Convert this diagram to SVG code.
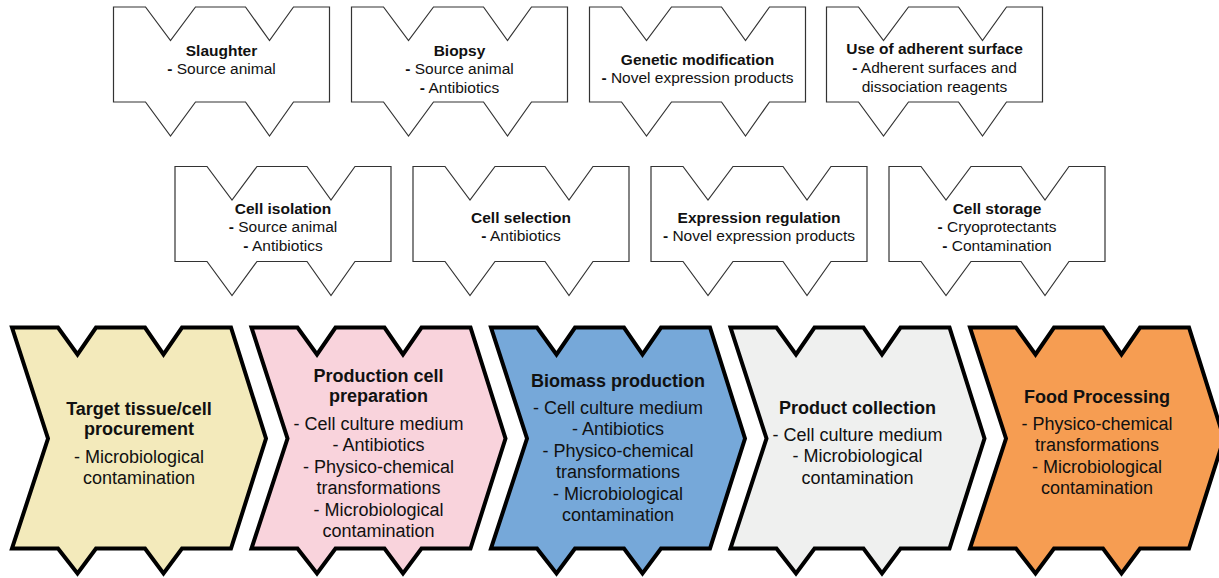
<svg xmlns="http://www.w3.org/2000/svg" xmlns:xlink="http://www.w3.org/1999/xlink" width="1219" height="578" viewBox="0 0 1219 578">
<style>
.tag{fill:#fff;stroke:#333;stroke-width:1.2;stroke-linejoin:miter}
.chev{stroke:#000;stroke-width:4;stroke-linejoin:miter}
.st{font-family:"Liberation Sans",Arial,sans-serif;font-size:15.5px;fill:#111;text-anchor:middle}
.ct{font-family:"Liberation Sans",Arial,sans-serif;font-size:18px;fill:#111;text-anchor:middle}
.b{font-weight:bold}
</style>
<defs>
<path id="tagShape" d="M0,0 H32 L57,33.5 L82,0 H132 L156,33.5 L180,0 H216 V95 H180 L156,129 L132,95 H82 L57,129 L32,95 H0 Z"/>
<path id="chevShape" d="M0,0 H46 L65.5,27 L84,0 H133 L151.5,27 L170,0 H219 L254,111 L219,221 H170 L151.5,246 L133,221 H84 L65.5,246 L46,221 H0 L36,111 Z"/>
</defs>
<g id="connectors"/>
<g id="slaughter">
<use href="#tagShape" class="tag" x="113.5" y="7"/>
<text class="st" x="221.5"><tspan class="b" x="221.5" y="55.5">Slaughter</tspan><tspan x="221.5" y="74"><tspan class="b">-</tspan> Source animal</tspan></text>
</g>
<g id="biopsy">
<use href="#tagShape" class="tag" x="351.5" y="7"/>
<text class="st"><tspan class="b" x="459.5" y="55.5">Biopsy</tspan><tspan x="459.5" y="74"><tspan class="b">-</tspan> Source animal</tspan><tspan x="459.5" y="92.5"><tspan class="b">-</tspan> Antibiotics</tspan></text>
</g>
<g id="genetic-modification">
<use href="#tagShape" class="tag" x="589.5" y="7"/>
<text class="st"><tspan class="b" x="697.5" y="64.5">Genetic modification</tspan><tspan x="697.5" y="83"><tspan class="b">-</tspan> Novel expression products</tspan></text>
</g>
<g id="adherent-surface">
<use href="#tagShape" class="tag" x="826.5" y="7"/>
<text class="st"><tspan class="b" x="934.5" y="53.5">Use of adherent surface</tspan><tspan x="934.5" y="72.5"><tspan class="b">-</tspan> Adherent surfaces and</tspan><tspan x="934.5" y="91.5">dissociation reagents</tspan></text>
</g>
<g id="cell-isolation">
<use href="#tagShape" class="tag" x="175" y="166.5"/>
<text class="st"><tspan class="b" x="283" y="213.5">Cell isolation</tspan><tspan x="283" y="232"><tspan class="b">-</tspan> Source animal</tspan><tspan x="283" y="250.5"><tspan class="b">-</tspan> Antibiotics</tspan></text>
</g>
<g id="cell-selection">
<use href="#tagShape" class="tag" x="413" y="166.5"/>
<text class="st"><tspan class="b" x="521" y="222.5">Cell selection</tspan><tspan x="521" y="241"><tspan class="b">-</tspan> Antibiotics</tspan></text>
</g>
<g id="expression-regulation">
<use href="#tagShape" class="tag" x="651" y="166.5"/>
<text class="st"><tspan class="b" x="759" y="222.5">Expression regulation</tspan><tspan x="759" y="241"><tspan class="b">-</tspan> Novel expression products</tspan></text>
</g>
<g id="cell-storage">
<use href="#tagShape" class="tag" x="889" y="166.5"/>
<text class="st"><tspan class="b" x="997" y="213.5">Cell storage</tspan><tspan x="997" y="232"><tspan class="b">-</tspan> Cryoprotectants</tspan><tspan x="997" y="250.5"><tspan class="b">-</tspan> Contamination</tspan></text>
</g>
<g id="target-tissue">
<use href="#chevShape" class="chev" fill="#F3EABB" x="12" y="327.5"/>
<text class="ct"><tspan class="b" x="139" y="414.5">Target tissue/cell</tspan><tspan class="b" x="139" y="434.5">procurement</tspan><tspan x="139" y="462.5">- Microbiological</tspan><tspan x="139" y="484">contamination</tspan></text>
</g>
<g id="production-cell">
<use href="#chevShape" class="chev" fill="#F9D3DC" x="251.5" y="327.5"/>
<text class="ct"><tspan class="b" x="378.5" y="381.5">Production cell</tspan><tspan class="b" x="378.5" y="401.5">preparation</tspan><tspan x="378.5" y="429.5">- Cell culture medium</tspan><tspan x="378.5" y="451">- Antibiotics</tspan><tspan x="378.5" y="472.5">- Physico-chemical</tspan><tspan x="378.5" y="494">transformations</tspan><tspan x="378.5" y="515.5">- Microbiological</tspan><tspan x="378.5" y="537">contamination</tspan></text>
</g>
<g id="biomass-production">
<use href="#chevShape" class="chev" fill="#76A8D9" x="491" y="327.5"/>
<text class="ct"><tspan class="b" x="618" y="386.5">Biomass production</tspan><tspan x="618" y="413.5">- Cell culture medium</tspan><tspan x="618" y="435">- Antibiotics</tspan><tspan x="618" y="456.5">- Physico-chemical</tspan><tspan x="618" y="478">transformations</tspan><tspan x="618" y="499.5">- Microbiological</tspan><tspan x="618" y="521">contamination</tspan></text>
</g>
<g id="product-collection">
<use href="#chevShape" class="chev" fill="#EFF0EF" x="730.5" y="327.5"/>
<text class="ct"><tspan class="b" x="857.5" y="413.5">Product collection</tspan><tspan x="857.5" y="440.5">- Cell culture medium</tspan><tspan x="857.5" y="462">- Microbiological</tspan><tspan x="857.5" y="483.5">contamination</tspan></text>
</g>
<g id="food-processing">
<use href="#chevShape" class="chev" fill="#F69D52" x="970" y="327.5"/>
<text class="ct"><tspan class="b" x="1097" y="402.5">Food Processing</tspan><tspan x="1097" y="429.5">- Physico-chemical</tspan><tspan x="1097" y="451">transformations</tspan><tspan x="1097" y="472.5">- Microbiological</tspan><tspan x="1097" y="494">contamination</tspan></text>
</g>
</svg>
